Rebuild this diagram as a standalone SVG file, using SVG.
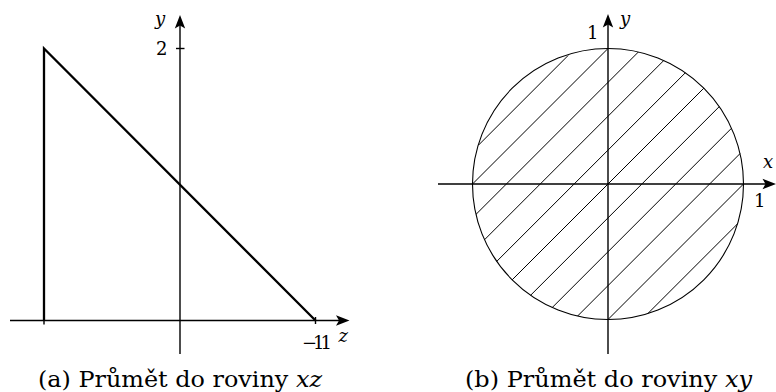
<svg xmlns="http://www.w3.org/2000/svg" width="776" height="392" viewBox="0 0 776 392">
<style>
  .axis { stroke: #000; stroke-width: 1.4; fill: none; }
  .thick { stroke: #000; stroke-width: 2.3; fill: none; stroke-linejoin: miter; }
  .thin { stroke: #000; stroke-width: 1.1; fill: none; }
  .hatch { stroke: #000; stroke-width: 1; fill: none; }
  text { font-family: 'DejaVu Serif', 'Liberation Serif', serif; fill: #000; }
  .lbl { font-size: 18px; }
  .it { font-style: italic; }
  .cap { font-size: 22px; }
</style>
<defs>
  <path id="tip" d="M0,0 L5.2,13.5 L0,10.5 L-5.2,13.5 Z" fill="#000"/>
</defs>

<rect width="776" height="392" fill="#fff"/>

<g id="connectors">
  <line class="axis" x1="10" y1="320.5" x2="345" y2="320.5"/>
  <use href="#tip" transform="translate(349.5,320.5) rotate(90)"/>
  <line class="axis" x1="180" y1="354" x2="180" y2="19"/>
  <use href="#tip" transform="translate(180,15)"/>
  <line class="axis" x1="176" y1="48.5" x2="184.5" y2="48.5"/>
  <line class="axis" x1="44" y1="320" x2="44" y2="324.5"/>
  <line class="axis" x1="315.5" y1="317" x2="315.5" y2="324"/>
  <line class="axis" x1="438" y1="184" x2="772" y2="184"/>
  <use href="#tip" transform="translate(776,184) rotate(90)"/>
  <line class="axis" x1="608" y1="354" x2="608" y2="18"/>
  <use href="#tip" transform="translate(608,14)"/>
</g>

<g id="triangle">
  <path class="thick" d="M44,320.5 L44,48.5 L315.5,320.5"/>
</g>

<g id="disk">
  <circle class="thin" cx="608" cy="184" r="135.5"/>
  <g class="hatch">
    <line x1="478.5" y1="145.12" x2="568.12" y2="55.5"/>
    <line x1="472.5" y1="184" x2="608" y2="48.5"/>
    <line x1="475.96" y1="214.42" x2="638.42" y2="51.96"/>
    <line x1="484.5" y1="239.76" x2="663.76" y2="60.5"/>
    <line x1="496.76" y1="261.36" x2="685.36" y2="72.76"/>
    <line x1="512.19" y1="279.81" x2="703.81" y2="88.19"/>
    <line x1="530.64" y1="295.24" x2="719.24" y2="106.64"/>
    <line x1="552.25" y1="307.51" x2="731.51" y2="128.25"/>
    <line x1="577.58" y1="316.04" x2="740.04" y2="153.58"/>
    <line x1="608" y1="319.5" x2="743.5" y2="184"/>
    <line x1="647.88" y1="313.5" x2="737.5" y2="223.88"/>
  </g>
</g>

<g id="labels">
  <text class="lbl it" x="155" y="24.5">y</text>
  <text class="lbl" x="156" y="55">2</text>
  <text class="lbl" x="302" y="348.5" letter-spacing="-4">−11</text>
  <text class="lbl it" x="338.5" y="342">z</text>

  <text class="lbl it" x="620" y="24.5">y</text>
  <text class="lbl" x="587" y="39">1</text>
  <text class="lbl it" x="763" y="168">x</text>
  <text class="lbl" x="754" y="206.5">1</text>
</g>

<g id="captions">
  <text class="cap" x="38" y="386.5" textLength="284" lengthAdjust="spacingAndGlyphs">(a) Průmět do roviny <tspan class="it">xz</tspan></text>
  <text class="cap" x="465" y="386.5" textLength="287" lengthAdjust="spacingAndGlyphs">(b) Průmět do roviny <tspan class="it">xy</tspan></text>
</g>
</svg>
